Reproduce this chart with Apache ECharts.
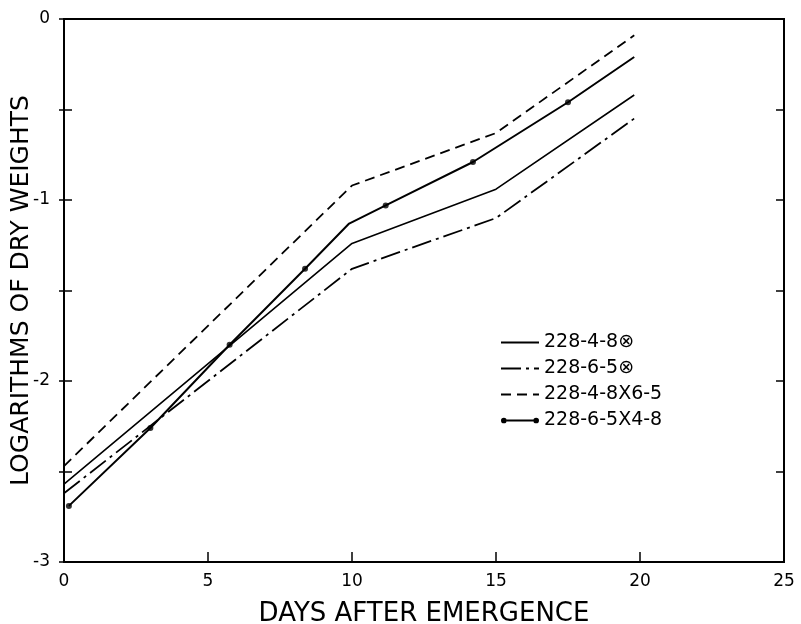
<!DOCTYPE html>
<html>
<head>
<meta charset="utf-8">
<script src="https://cdn.jsdelivr.net/npm/echarts@6/dist/echarts.min.js"></script>
<style>html,body{margin:0;padding:0;background:#fff}#c{width:801px;height:624px}</style>
</head>
<body>
<div id="c"></div>
<script>
// ---- data ----
const seriesNames = ['228-4-8⊗', '228-6-5⊗', '228-4-8X6-5', '228-6-5X4-8'];

const solidDays = [0, 10, 15, 19.8];
const solidVals = [-2.57, -1.24, -0.94, -0.42];

const dashDotDays = [0, 10, 15, 19.8];
const dashDotVals = [-2.62, -1.38, -1.10, -0.55];

const dashedDays = [0, 10, 15, 19.8];
const dashedVals = [-2.47, -0.92, -0.63, -0.09];

const dotLineDays = [0.17, 3.0, 5.75, 8.37, 9.9, 11.17, 14.2, 17.5, 19.8];
const dotLineVals = [-2.69, -2.26, -1.80, -1.38, -1.13, -1.03, -0.79, -0.46, -0.21];

const dotMarkDays = [0.17, 3.0, 5.75, 8.37, 11.17, 14.2, 17.5];
const dotMarkVals = [-2.69, -2.26, -1.80, -1.38, -1.03, -0.79, -0.46];

const xTickStep = 5;
const yTickStep = 0.5;

const xTitle = 'DAYS AFTER EMERGENCE';
const yTitle = 'LOGARITHMS OF DRY WEIGHTS';

// ---- build ----
const pairs = (xs, ys) => xs.map((x, i) => [x, ys[i]]);
const FONT = 'DejaVu Sans';
const dotIcon = 'path://M0,4A3,3,0,1,1,6,4A3,3,0,1,1,0,4ZM6,3L34,3L34,5L6,5ZM34,4A3,3,0,1,1,40,4A3,3,0,1,1,34,4Z';
const hideSym = {opacity: 0};
const tickLine = {color: '#000', width: 1.5};

const chart = echarts.init(document.getElementById('c'), null, {renderer: 'canvas'});
chart.setOption({
  backgroundColor: '#fff',
  animation: false,
  grid: {left: 64, right: 17, top: 19, bottom: 62, show: true, borderColor: '#000', borderWidth: 2,
    outerBoundsMode: 'none', containLabel: false},
  legend: {
    orient: 'vertical', left: 495, top: 328, itemWidth: 38, itemHeight: 8, itemGap: 7,
    textStyle: {fontFamily: FONT, fontSize: 19, color: '#000'},
    data: [
      {name: seriesNames[0], itemStyle: hideSym},
      {name: seriesNames[1], itemStyle: hideSym},
      {name: seriesNames[2], itemStyle: hideSym},
      {name: seriesNames[3], icon: dotIcon, itemStyle: {color: '#000'}}
    ]
  },
  xAxis: [{
    type: 'value', min: 0, max: 25, interval: xTickStep, position: 'bottom',
    name: xTitle, nameLocation: 'middle', nameGap: 39, nameMoveOverlap: false,
    nameTextStyle: {fontFamily: FONT, fontSize: 26, color: '#000'},
    axisLine: {show: true, onZero: false, lineStyle: {color: '#000', width: 2}},
    axisTick: {show: true, inside: true, length: 10, lineStyle: tickLine},
    axisLabel: {fontFamily: FONT, fontSize: 17, color: '#000', margin: 11},
    splitLine: {show: false}
  }],
  yAxis: [{
    type: 'value', min: -3, max: 0, interval: yTickStep, position: 'left',
    name: yTitle, nameLocation: 'middle', nameGap: 30, nameRotate: 90, nameMoveOverlap: false,
    nameTextStyle: {fontFamily: FONT, fontSize: 25, color: '#000'},
    axisLine: {show: true, onZero: false, lineStyle: {color: '#000', width: 2}},
    axisTick: {show: true, inside: true, length: 8, lineStyle: tickLine},
    axisLabel: {fontFamily: FONT, fontSize: 17, color: '#000', margin: 14,
      formatter: v => (Number.isInteger(v) ? String(v) : '')},
    splitLine: {show: false}
  }, {
    type: 'value', min: -3, max: 0, interval: yTickStep, position: 'left', offset: 0,
    axisLine: {show: false, onZero: false},
    axisTick: {show: true, inside: false, length: 5, lineStyle: tickLine},
    axisLabel: {show: false},
    splitLine: {show: false}
  }, {
    type: 'value', min: -3, max: 0, interval: yTickStep, position: 'right',
    axisLine: {show: true, onZero: false, lineStyle: {color: '#000', width: 2}},
    axisTick: {show: true, inside: true, length: 8, lineStyle: tickLine},
    axisLabel: {show: false},
    splitLine: {show: false}
  }],
  series: [{
    name: seriesNames[0], type: 'line', symbol: 'none', data: pairs(solidDays, solidVals),
    lineStyle: {color: '#000', width: 1.6, type: 'solid'}, itemStyle: {color: '#000'}
  }, {
    name: seriesNames[1], type: 'line', symbol: 'none', data: pairs(dashDotDays, dashDotVals),
    lineStyle: {color: '#000', width: 1.8, type: [20, 5, 3, 5]}, itemStyle: {color: '#000'}
  }, {
    name: seriesNames[2], type: 'line', symbol: 'none', data: pairs(dashedDays, dashedVals),
    lineStyle: {color: '#000', width: 1.8, type: [10, 6]}, itemStyle: {color: '#000'}
  }, {
    name: seriesNames[3], type: 'line', symbol: 'none', data: pairs(dotLineDays, dotLineVals),
    lineStyle: {color: '#000', width: 2}, itemStyle: {color: '#000'}
  }, {
    name: 'marks', type: 'scatter', symbol: 'circle', symbolSize: 6, data: pairs(dotMarkDays, dotMarkVals),
    itemStyle: {color: '#000'}, z: 3
  }]
});
</script>
</body>
</html>
